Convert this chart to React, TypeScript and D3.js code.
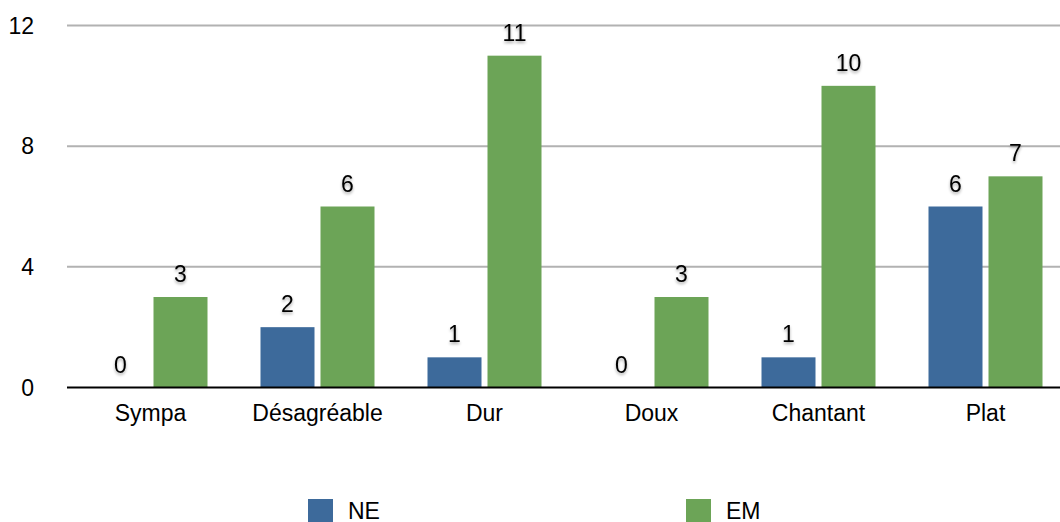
import React from "react";
import * as d3 from "d3";

const categories = ["Sympa", "Désagréable", "Dur", "Doux", "Chantant", "Plat"];
const seriesNames = ["NE", "EM"];
const neValues = [0, 2, 1, 0, 1, 6];
const emValues = [3, 6, 11, 3, 10, 7];
const yTicks = [0, 4, 8, 12];
const colors = ["#3d6a9b", "#6ca457"];

const W = 1060;
const H = 522;

export default function App() {
  const x = d3.scaleBand<string>().domain(categories).range([67, 1069]).paddingInner(0).paddingOuter(0);
  const y = d3.scaleLinear().domain([0, 12]).range([387.5, 25.5]);
  const bw = x.bandwidth();
  const barW = 54;
  const gap = 6;
  const series = [neValues, emValues];
  const font = "'Liberation Sans', Arial, Helvetica, sans-serif";
  const fs = 23;

  return (
    <svg width={W} height={H} style={{ position: "absolute", left: 0, top: 0 }} fontFamily={font}>
      <defs>
        <filter id="ts" x="-50%" y="-50%" width="200%" height="200%">
          <feGaussianBlur in="SourceAlpha" stdDeviation="1.5" />
          <feOffset dx="0" dy="2" result="b" />
          <feComponentTransfer>
            <feFuncA type="linear" slope="0.35" />
          </feComponentTransfer>
          <feMerge>
            <feMergeNode />
            <feMergeNode in="SourceGraphic" />
          </feMerge>
        </filter>
      </defs>
      <rect width={W} height={H} fill="#fff" />
      {yTicks.filter((t) => t !== 0).map((t) => (
        <line key={t} x1={67} x2={W} y1={y(t)} y2={y(t)} stroke="#b2b2b2" strokeWidth={2} />
      ))}
      {yTicks.map((t) => (
        <text key={t} x={34} y={y(t)} dy="0.36em" textAnchor="end" fontSize={fs} fill="#000">
          {t}
        </text>
      ))}
      {categories.map((c, i) => {
        const cx = (x(c) as number) + bw / 2;
        return (
          <g key={c}>
            {series.map((vals, s) => {
              const bx = s === 0 ? cx - gap / 2 - barW : cx + gap / 2;
              const v = vals[i];
              return (
                <g key={s}>
                  {v > 0 && (
                    <rect x={bx} y={y(v)} width={barW} height={y(0) - y(v)} fill={colors[s]} />
                  )}
                  <text
                    x={bx + barW / 2}
                    y={y(v) - 15}
                    textAnchor="middle"
                    fontSize={fs}
                    fill="#000"
                    filter="url(#ts)"
                  >
                    {v}
                  </text>
                </g>
              );
            })}
            <text x={cx} y={421} textAnchor="middle" fontSize={fs} fill="#000">
              {c}
            </text>
          </g>
        );
      })}
      <line x1={67} x2={W} y1={y(0)} y2={y(0)} stroke="#000" strokeWidth={2} />
      {seriesNames.map((n, s) => {
        const lx = s === 0 ? 308 : 686;
        return (
          <g key={n}>
            <rect x={lx} y={499} width={25} height={23} fill={colors[s]} />
            <text x={lx + 40} y={518.5} fontSize={fs} fill="#000">
              {n}
            </text>
          </g>
        );
      })}
    </svg>
  );
}
